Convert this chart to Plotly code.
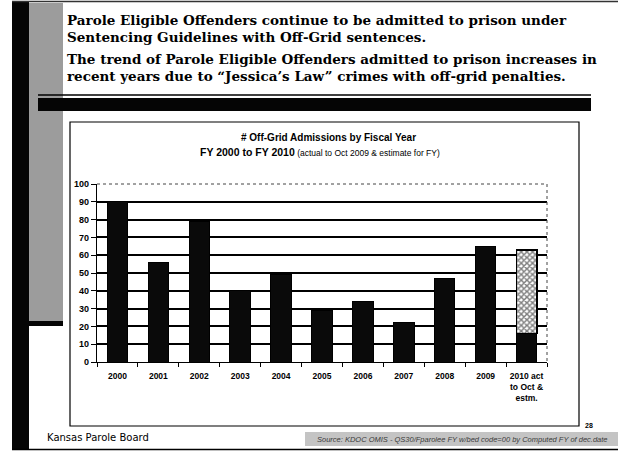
import plotly.graph_objects as go

# ---------------- data ----------------
categories = ["2000", "2001", "2002", "2003", "2004", "2005", "2006", "2007", "2008", "2009",
              "2010 act<br>to Oct &<br>estm."]
actual = [90, 56, 79, 40, 49, 29, 34, 22, 47, 65, 16]
estimate = [None, None, None, None, None, None, None, None, None, None, 47]
y_ticks = [0, 10, 20, 30, 40, 50, 60, 70, 80, 90, 100]

header_lines = [
    "Parole Eligible Offenders continue to be admitted to prison under",
    "Sentencing Guidelines with Off-Grid sentences.",
    "The trend of Parole Eligible Offenders admitted to prison increases in",
    "recent years due to \u201cJessica\u2019s Law\u201d crimes with off-grid penalties.",
]
chart_title1 = "# Off-Grid Admissions by Fiscal Year"
chart_title2a = "FY 2000 to FY 2010"
chart_title2b = " (actual to Oct 2009 & estimate for FY)"
footer_left = "Kansas Parole Board"
footer_source = "Source: KDOC OMIS - QS30/Fparolee FY w/bed code=00 by Computed FY of dec.date"
page_no = "28"

# ---------------- layout geometry (pixels) ----------------
W, H = 618, 453
PL, PR, PT, PB = 97, 547, 184, 362  # plot area


def px(x):
    return (x - PL) / (PR - PL)


def py(y):
    return (PB - y) / (PB - PT)


fig = go.Figure()
fig.add_trace(go.Bar(
    x=categories, y=actual, marker=dict(color="#0a0a0a", line=dict(color="black", width=1)),
    name="actual", showlegend=False))
fig.add_trace(go.Bar(
    x=categories, y=estimate,
    marker=dict(color="white", line=dict(color="black", width=1.5),
                pattern=dict(shape="x", fgcolor="black", bgcolor="white", size=4, solidity=0.6)),
    name="estimate", showlegend=False))

shapes = []


def rect(x0, y0, x1, y1, fill, line_color=None, lw=0, layer="below"):
    shapes.append(dict(type="rect", xref="paper", yref="paper",
                       x0=px(x0), x1=px(x1), y0=py(y0), y1=py(y1),
                       fillcolor=fill, line=dict(color=line_color or fill, width=lw), layer=layer))


def line(x0, y0, x1, y1, color="black", lw=1, dash="solid", layer="below"):
    shapes.append(dict(type="line", xref="paper", yref="paper",
                       x0=px(x0), x1=px(x1), y0=py(y0), y1=py(y1),
                       line=dict(color=color, width=lw, dash=dash), layer=layer))


# page decorations
rect(29, 3, 63, 321, "#9c9c9c")               # gray textured strip
rect(12, 2, 29, 449, "#050505")               # left black bar
rect(29, 321, 63, 326, "#050505")             # small black bar under strip
line(12, 1.5, 618, 1.5, "#333333", 1.5)       # top line
line(38, 95, 591, 95, "black", 1.5)           # thin header line
rect(38, 98, 591, 111, "#050505")             # thick header bar
rect(70, 122, 579, 426, "white", "black", 1.2)  # chart box
line(12, 449.5, 618, 449.5, "black", 1.5)     # bottom line
rect(305, 432, 618, 446, "#c4c4c4")           # source band

# plot border top/right dotted
line(PL, PT, PR, PT, "#444444", 1, "dot", "above")
line(PR, PT, PR, PB, "#444444", 1, "dot", "above")

annotations = []
header_y = [20, 37, 59, 76]
for txt, yy in zip(header_lines, header_y):
    annotations.append(dict(text="<b>" + txt + "</b>", xref="paper", yref="paper",
                            x=px(65), y=py(yy), xanchor="left", yanchor="middle", showarrow=False,
                            font=dict(family="DejaVu Serif", size=13.5, color="black")))

annotations.append(dict(text="<b>" + chart_title1 + "</b>", xref="paper", yref="paper",
                        x=px(328), y=py(137), xanchor="center", yanchor="middle", showarrow=False,
                        font=dict(family="Liberation Sans", size=10, color="black")))
annotations.append(dict(text="<b>" + chart_title2a + "</b><span style='font-size:8.5px'>" + chart_title2b + "</span>",
                        xref="paper", yref="paper",
                        x=px(320), y=py(152), xanchor="center", yanchor="middle", showarrow=False,
                        font=dict(family="Liberation Sans", size=10.5, color="black")))
annotations.append(dict(text=footer_left, xref="paper", yref="paper",
                        x=px(45), y=py(437), xanchor="left", yanchor="middle", showarrow=False,
                        font=dict(family="DejaVu Sans", size=10, color="black")))
annotations.append(dict(text="<i>" + footer_source + "</i>", xref="paper", yref="paper",
                        x=px(315), y=py(439), xanchor="left", yanchor="middle", showarrow=False,
                        font=dict(family="Liberation Sans", size=7.5, color="#3a3a3a")))
annotations.append(dict(text="<b>" + page_no + "</b>", xref="paper", yref="paper",
                        x=px(583), y=py(425), xanchor="left", yanchor="middle", showarrow=False,
                        font=dict(family="Liberation Sans", size=7, color="black")))

fig.update_layout(
    width=W, height=H,
    margin=dict(l=PL, r=W - PR, t=PT, b=H - PB, pad=0),
    paper_bgcolor="white", plot_bgcolor="white",
    barmode="stack", bargap=0.5,
    shapes=shapes, annotations=annotations,
    showlegend=False,
    xaxis=dict(type="category", showline=True, linecolor="black", linewidth=1.2,
               ticks="outside", ticklen=4, tickcolor="black", tickson="boundaries",
               tickangle=0, showgrid=False, ticklabelstandoff=6,
               tickfont=dict(family="Liberation Sans", size=8.5, color="black", weight="bold"),
               fixedrange=True),
    yaxis=dict(range=[0, 100], tickvals=y_ticks, showline=True, linecolor="black", linewidth=1.2,
               ticks="outside", ticklen=5, tickcolor="black",
               showgrid=True, gridcolor="black", gridwidth=1.5, zeroline=False,
               tickfont=dict(family="Liberation Sans", size=9, color="black", weight="bold"),
               fixedrange=True),
)

fig.write_html("out.html", config={"displayModeBar": False})
